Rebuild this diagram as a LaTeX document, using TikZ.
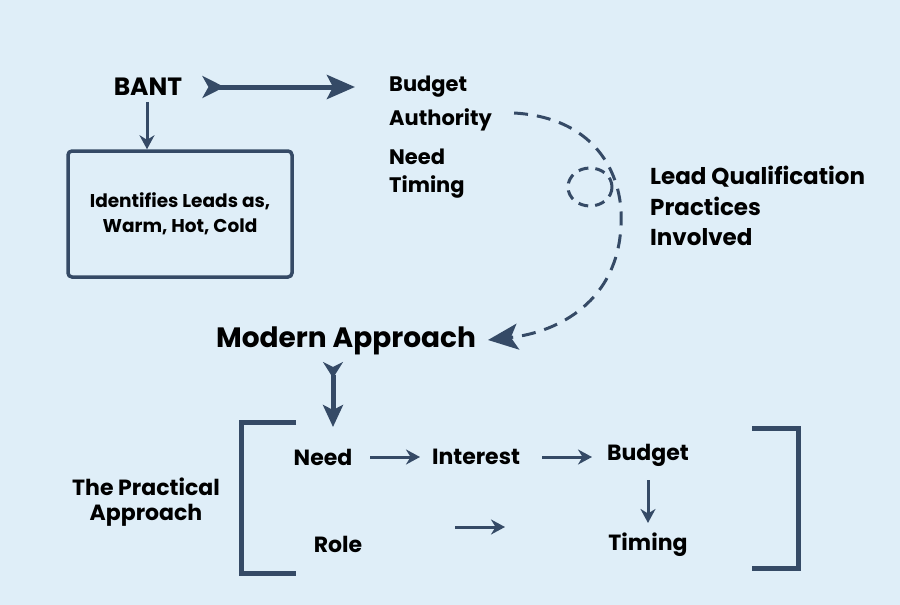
\documentclass[tikz,border=0pt]{standalone}
\usepackage{fontspec}
\setmainfont{Poppins}
\usetikzlibrary{arrows.meta}
\definecolor{bgblue}{HTML}{DFEEF8}
\definecolor{navy}{HTML}{354A66}
\tikzset{
  lbl/.style={font=\bfseries\fontsize{21}{25}\selectfont, inner sep=0pt},
  bigarrow/.style={navy, line width=5pt,
    {Stealth[reversed,length=22pt,width=22pt,inset=6pt]}-{Stealth[length=28pt,width=24pt,inset=6pt]}},
  smallarrow/.style={navy, line width=3pt, -{Stealth[length=14pt,width=15pt]}},
  bracket/.style={navy, line width=5pt, miter limit=10},
}
\begin{document}
\begin{tikzpicture}[x=1pt,y=-1pt]
  \fill[bgblue] (0,0) rectangle (900,605);
  \useasboundingbox (0,0) rectangle (900,605);
  % BANT side
  \node[lbl, font=\bfseries\fontsize{25}{30}\selectfont] (bant) at (148,87) {BANT};
  \node[draw=navy, line width=3.5pt, rounded corners=4pt, minimum width=224, minimum height=126,
    align=center, font=\bfseries\fontsize{18.5}{25}\selectfont] (box) at (180,214)
    {Identifies Leads as,\\Warm, Hot, Cold};
  \node[lbl, anchor=west] (abBudget) at (389,87) {Budget};
  \node[lbl, anchor=west] (abAuth) at (389,120) {Authority};
  \node[lbl, anchor=west] (abNeed) at (389,157) {Need};
  \node[lbl, anchor=west] (abTiming) at (389,187) {Timing};
  \node[lbl, anchor=west, align=left, font=\bfseries\fontsize{23}{30.5}\selectfont] (lqp) at (650,206)
    {Lead Qualification\\Practices\\Involved};
  \draw[bigarrow, shorten <=20pt, shorten >=34pt] (bant) -- (abBudget);
  \draw[smallarrow] ([yshift=-6]bant.south -| 147,0) -- (147,0 |- box.north);
  % dashed curve
  \draw[navy, line width=3pt, dash pattern=on 14pt off 9pt, -{Stealth[length=30pt,width=26pt,inset=7pt]}]
    ([shift={(22,-7)}]abAuth.east) .. controls (600,118) and (624,180) .. (621,225)
    .. controls (618,300) and (560,332) .. (488,340);
  \draw[navy, line width=3pt, dash pattern=on 10pt off 7pt] (590,187) ellipse [x radius=22, y radius=19];
  % modern approach
  \node[lbl, font=\bfseries\fontsize{28}{32}\selectfont] (modern) at (346,341) {Modern Approach};
  \draw[bigarrow, {Stealth[reversed,length=16pt,width=20pt,inset=5pt]}-{Stealth[length=22pt,width=20pt,inset=5pt]}]
    (333,362) -- (333,427);
  % practical approach
  \node[lbl, align=center, font=\bfseries\fontsize{22}{25}\selectfont] (practical) at (146,502)
    {The Practical\\Approach};
  \draw[bracket] (296,422) -- (241,422) -- (241,573) -- (296,573);
  \draw[bracket] (752,428) -- (798,428) -- (798,568) -- (752,568);
  \node[lbl, font=\bfseries\fontsize{22}{25}\selectfont] (need) at (323,457) {Need};
  \node[lbl, font=\bfseries\fontsize{22}{25}\selectfont] (interest) at (476,457) {Interest};
  \node[lbl, font=\bfseries\fontsize{22}{25}\selectfont] (budget) at (648,455) {Budget};
  \node[lbl, font=\bfseries\fontsize{22}{25}\selectfont] (role) at (338,544) {Role};
  \node[lbl, font=\bfseries\fontsize{22}{25}\selectfont] (timing) at (648,545) {Timing};
  \coordinate (roleA) at (455,527);
  \coordinate (roleB) at (505,527);
  \draw[smallarrow] (need -| 370,0) -- (interest -| 420,0);
  \draw[smallarrow] (interest -| 542,0) -- (interest -| 592,0);
  \draw[smallarrow] (roleA) -- (roleB);
  \draw[smallarrow] (budget.south -| 648,0) ++(0,14) -- ([yshift=10]timing.north);
\end{tikzpicture}
\end{document}
